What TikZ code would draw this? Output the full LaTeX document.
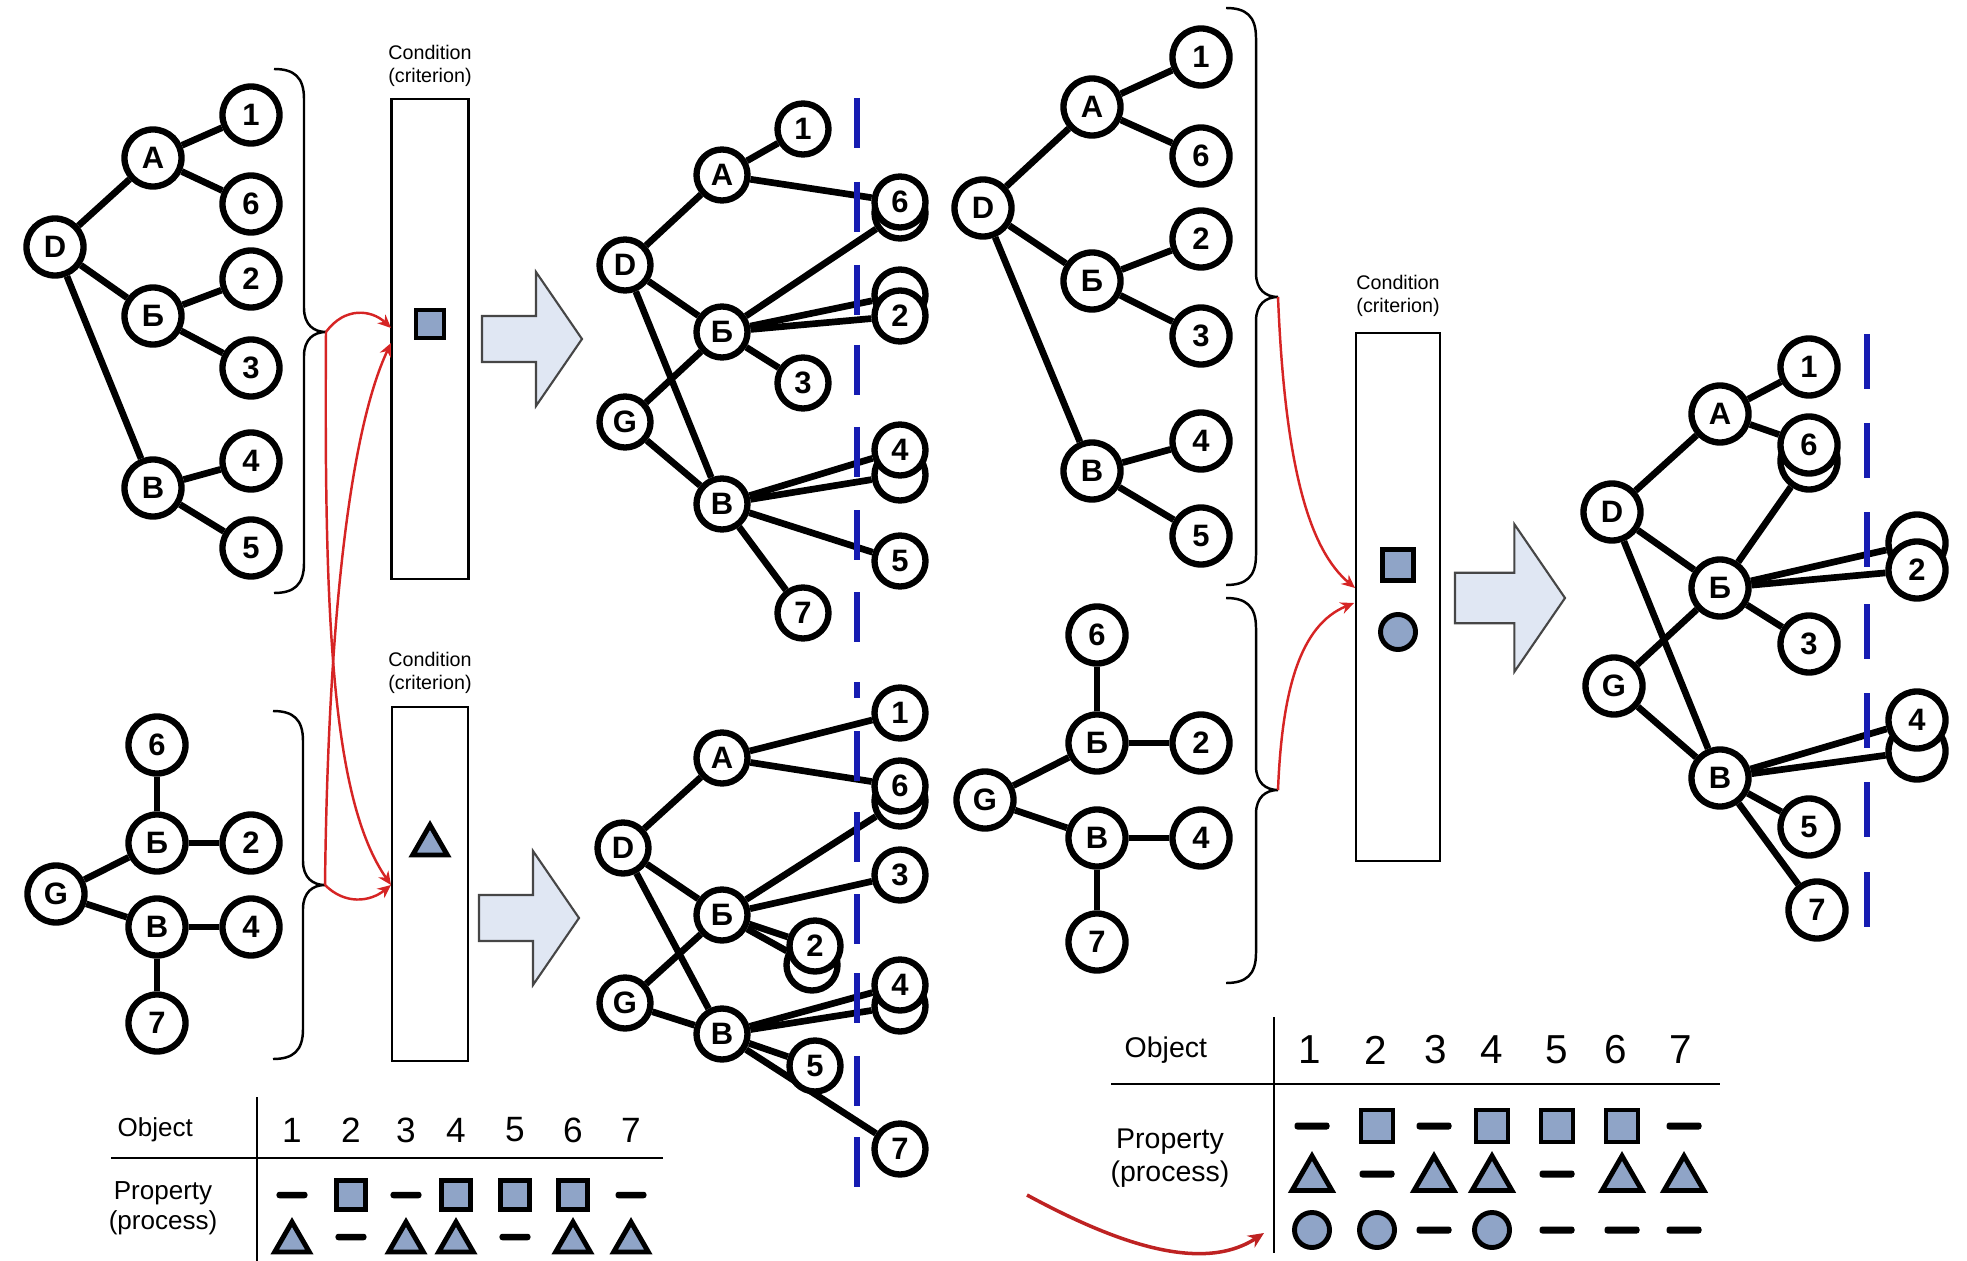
\documentclass[tikz,border=0pt]{standalone}
\usepackage{fontspec}
\setmainfont{Liberation Sans}
\usepackage{tikz}
\usetikzlibrary{arrows.meta,shapes.geometric,backgrounds}
\definecolor{cutBlue}{RGB}{22,28,178}
\definecolor{linkRed}{RGB}{214,36,36}
\definecolor{linkRedDark}{RGB}{190,34,34}
\definecolor{symFill}{RGB}{143,164,199}
\definecolor{bigFill}{RGB}{224,231,243}
\definecolor{bigEdge}{RGB}{70,70,70}

\tikzset{
  obj/.style={circle, draw, fill=white, line width=1.8pt, minimum size=0.57cm, inner sep=0pt,
    font=\bfseries\fontsize{8.8}{9}\selectfont},
  sobj/.style={obj, minimum size=0.51cm},
  tie/.style={line width=1.9pt},
  cut/.style={cutBlue, line width=1.5pt},
  brc/.style={line width=0.7pt},
  link/.style={linkRed, line width=0.7pt, -{Stealth[length=3.8pt,width=3.4pt]}},
  condbox/.style={draw, line width=0.7pt, inner sep=0pt},
  condlabel/.style={align=center, inner sep=0pt, font=\fontsize{5.6}{6.6}\selectfont},
  symsq/.style={rectangle, draw, fill=symFill, line width=1.4pt, minimum size=0.29cm, inner sep=0pt},
  symtri/.style={regular polygon, regular polygon sides=3, draw, fill=symFill, line width=1.4pt,
    minimum size=0.40cm, inner sep=0pt, yshift=-0.05cm},
  symdot/.style={circle, draw, fill=symFill, line width=1.4pt, minimum size=0.34cm, inner sep=0pt},
  symdash/.style={rectangle, fill=black, rounded corners=0.8pt, minimum width=0.31cm,
    minimum height=0.065cm, inner sep=0pt},
  tabrule/.style={line width=0.7pt},
  tabtext/.style={inner sep=0pt, font=\fontsize{7.4}{8.5}\selectfont},
  tabnum/.style={inner sep=0pt, font=\fontsize{10}{10}\selectfont}
}

\newcommand{\critbrace}[4]{%
\draw[brc] (#1,#2) .. controls (#1+20,#2) and (#1+30,#2+8) .. (#1+30,#2+30)
  -- (#1+30,#3-24) .. controls (#1+30,#3-7) and (#1+40,#3) .. (#1+52,#3)
  .. controls (#1+40,#3) and (#1+30,#3+7) .. (#1+30,#3+24)
  -- (#1+30,#4-30) .. controls (#1+30,#4-8) and (#1+20,#4) .. (#1,#4);}

\newcommand{\bigarrow}[3]{%
\begin{scope}[shift={(#1,#2)},scale=#3]
\draw[fill=bigFill, draw=bigEdge, line width=0.6pt]
  (0,-23) -- (54,-23) -- (54,-67) -- (100,0) -- (54,67) -- (54,23) -- (0,23) -- cycle;
\end{scope}}

\begin{document}
\begin{tikzpicture}[x=0.01cm, y=-0.01cm]
\useasboundingbox (0,0) rectangle (1967,1261);

% source tree D
\node[obj] (aD) at (55,247) {D};
\node[obj] (aA) at (153,158) {А};
\node[obj] (aB) at (153,316) {Б};
\node[obj] (aV) at (153,488) {В};
\node[obj] (a1) at (251,115) {1};
\node[obj] (a6) at (251,204) {6};
\node[obj] (a2) at (251,279) {2};
\node[obj] (a3) at (251,368) {3};
\node[obj] (a4) at (251,461) {4};
\node[obj] (a5) at (251,548) {5};

% source tree G
\node[obj] (bG) at (56,894) {G};
\node[obj] (bB) at (157,843) {Б};
\node[obj] (bV) at (157,927) {В};
\node[obj] (b6) at (157,745) {6};
\node[obj] (b2) at (251,843) {2};
\node[obj] (b4) at (251,927) {4};
\node[obj] (b7) at (157,1023) {7};

% result by square
\node[sobj] (cD) at (625,265) {D};
\node[sobj] (cA) at (722,175) {А};
\node[sobj] (cB) at (722,332) {Б};
\node[sobj] (cG) at (625,422) {G};
\node[sobj] (cV) at (722,504) {В};
\node[sobj] (c1) at (803,129) {1};
\node[sobj] (c3) at (803,383) {3};
\node[sobj] (c7) at (803,613) {7};
\node[sobj] (c6x) at (900,213) {};
\node[sobj] (c6) at (900,202) {6};
\node[sobj] (c2x) at (900,295) {};
\node[sobj] (c2) at (900,316) {2};
\node[sobj] (c4x) at (900,475) {};
\node[sobj] (c4) at (900,450) {4};
\node[sobj] (c5) at (900,561) {5};

% result by triangle
\node[sobj] (dD) at (623,848) {D};
\node[sobj] (dA) at (722,758) {А};
\node[sobj] (dB) at (722,915) {Б};
\node[sobj] (dG) at (625,1003) {G};
\node[sobj] (dV) at (722,1034) {В};
\node[sobj] (d1) at (900,713) {1};
\node[sobj] (d6x) at (900,801) {};
\node[sobj] (d6) at (900,786) {6};
\node[sobj] (d3) at (900,875) {3};
\node[sobj] (d2x) at (812,965) {};
\node[sobj] (d2) at (815,946) {2};
\node[sobj] (d4x) at (900,1006) {};
\node[sobj] (d4) at (900,985) {4};
\node[sobj] (d5) at (815,1066) {5};
\node[sobj] (d7) at (900,1149) {7};

% second source tree D
\node[obj] (eD) at (983,208) {D};
\node[obj] (eA) at (1092,107) {А};
\node[obj] (eB) at (1092,281) {Б};
\node[obj] (eV) at (1092,471) {В};
\node[obj] (e1) at (1201,57) {1};
\node[obj] (e6) at (1201,156) {6};
\node[obj] (e2) at (1201,239) {2};
\node[obj] (e3) at (1201,336) {3};
\node[obj] (e4) at (1201,441) {4};
\node[obj] (e5) at (1201,536) {5};

% second source tree G
\node[obj] (fG) at (985,800) {G};
\node[obj] (fB) at (1097,743) {Б};
\node[obj] (fV) at (1097,838) {В};
\node[obj] (f6) at (1097,635) {6};
\node[obj] (f2) at (1201,743) {2};
\node[obj] (f4) at (1201,838) {4};
\node[obj] (f7) at (1097,942) {7};

% result by square and circle
\node[obj] (gD) at (1612,512) {D};
\node[obj] (gA) at (1720,414) {А};
\node[obj] (gB) at (1720,588) {Б};
\node[obj] (gG) at (1614,686) {G};
\node[obj] (gV) at (1720,778) {В};
\node[obj] (g1) at (1809,367) {1};
\node[obj] (g6x) at (1809,461) {};
\node[obj] (g6) at (1809,445) {6};
\node[obj] (g3) at (1809,644) {3};
\node[obj] (g5) at (1809,827) {5};
\node[obj] (g7) at (1817,910) {7};
\node[obj] (g2x) at (1917,543) {};
\node[obj] (g2) at (1917,570) {2};
\node[obj] (g4x) at (1917,751) {};
\node[obj] (g4) at (1917,720) {4};

\begin{scope}[on background layer]
\foreach \u/\v in {aD/aA,aD/aB,aD/aV,aA/a1,aA/a6,aB/a2,aB/a3,aV/a4,aV/a5,
  bG/bB,bG/bV,bB/b6,bB/b2,bV/b4,bV/b7,
  cD/cA,cD/cB,cD/cV,cG/cB,cG/cV,cA/c1,cA/c6,cB/c6x,cB/c2x,cB/c2,cB/c3,cV/c4,cV/c4x,cV/c5,cV/c7,
  dD/dA,dD/dB,dD/dV,dG/dB,dG/dV,dA/d1,dA/d6,dB/d6x,dB/d3,dB/d2,dB/d2x,dV/d4,dV/d4x,dV/d5,dV/d7,
  eD/eA,eD/eB,eD/eV,eA/e1,eA/e6,eB/e2,eB/e3,eV/e4,eV/e5,
  fG/fB,fG/fV,fB/f6,fB/f2,fV/f4,fV/f7,
  gD/gA,gD/gB,gD/gV,gG/gB,gG/gV,gA/g1,gA/g6,gB/g6x,gB/g2x,gB/g2,gB/g3,gV/g4,gV/g4x,gV/g5,gV/g7}
  \draw[tie] (\u) -- (\v);
\end{scope}

% cut lines
\foreach \y in {98,182,265,345,427,510,592}
  \draw[cut] (857,\y) -- (857,\y+50);
\draw[cut] (857,682) -- (857,698);
\foreach \y in {731,812,894,973,1056,1137}
  \draw[cut] (857,\y) -- (857,\y+50);
\foreach \y in {334,423,512,604,693,782,872}
  \draw[cut] (1867,\y) -- (1867,\y+55);

% braces
\critbrace{274}{69}{332}{593}
\critbrace{273}{711}{885}{1059}
\critbrace{1226}{8}{297}{585}
\critbrace{1226}{598}{790}{983}

% criteria
\node[condbox, minimum width=0.77cm, minimum height=4.8cm] (crit1) at (430,339) {};
\node[condlabel] (crit1lab) at (430,66) {Condition\\(criterion)};
\node[symsq, minimum size=0.28cm] (crit1sq) at (430,324) {};
\node[condbox, minimum width=0.76cm, minimum height=3.54cm] (crit2) at (430,884) {};
\node[condlabel] (crit2lab) at (430,673) {Condition\\(criterion)};
\node[symtri] (crit2tri) at (430,840) {};
\node[condbox, minimum width=0.84cm, minimum height=5.28cm] (crit3) at (1398,597) {};
\node[condlabel] (crit3lab) at (1398,296) {Condition\\(criterion)};
\node[symsq, minimum size=0.31cm] (crit3sq) at (1398,565) {};
\node[symdot, minimum size=0.35cm] (crit3dot) at (1398,632) {};

% links
\coordinate (tipA) at (326,332);
\coordinate (tipB) at (325,885);
\coordinate (tipE) at (1278,297);
\coordinate (tipF) at (1278,790);
\coordinate (in1a) at (391,328);
\coordinate (in1b) at (391,343);
\coordinate (in2) at (391,885);
\coordinate (in3a) at (1355,588);
\coordinate (in3b) at (1354,603);
\draw[link] (tipA) .. controls (345,306) and (372,310) .. (in1a);
\draw[link] (tipB) .. controls (328,620) and (350,430) .. (in1b);
\draw[link] (tipA) .. controls (324,620) and (332,800) .. (in2);
\draw[link] (tipB) .. controls (345,905) and (370,902) .. (in2);
\draw[link] (tipE) .. controls (1285,470) and (1310,550) .. (in3a);
\draw[link] (tipF) .. controls (1282,690) and (1300,625) .. (in3b);

% big arrows
\bigarrow{482}{339}{1}
\bigarrow{479}{918}{1}
\bigarrow{1455}{598}{1.1}

% table of the first step
\node[tabtext, anchor=west] (tObjA) at (117,1130) {Object};
\foreach \n/\x in {1/292,2/351,3/406,4/456,5/515,6/573,7/631}
  \node[tabnum] (tNumA\n) at (\x,1130) {\n};
\node[tabtext, align=center] (tPropA) at (163,1208) {Property\\(process)};
\draw[tabrule] (111,1158) -- (663,1158);
\draw[tabrule] (257,1097) -- (257,1261);
\foreach \k/\x [count=\i] in {symdash/292,symsq/351,symdash/406,symsq/456,symsq/515,symsq/573,symdash/631}
  \node[\k] (tA1\i) at (\x,1195) {};
\foreach \k/\x [count=\i] in {symtri/292,symdash/351,symtri/406,symtri/456,symdash/515,symtri/573,symtri/631}
  \node[\k] (tA2\i) at (\x,1237) {};

% table of the second step
\begin{scope}[tabtext/.append style={font=\fontsize{8.1}{9.3}\selectfont},
  tabnum/.append style={font=\fontsize{11.5}{11.5}\selectfont},
  symsq/.append style={minimum size=0.32cm},
  symtri/.append style={minimum size=0.46cm},
  symdot/.append style={minimum size=0.35cm},
  symdash/.append style={minimum width=0.35cm, minimum height=0.07cm}]
\node[tabtext, anchor=west] (tObjB) at (1124,1050) {Object};
\foreach \n/\x in {1/1310,2/1376,3/1436,4/1492,5/1557,6/1616,7/1681}
  \node[tabnum] (tNumB\n) at (\x,1050) {\n};
\node[tabtext, align=center] (tPropB) at (1170,1158) {Property\\(process)};
\draw[tabrule] (1111,1084) -- (1720,1084);
\draw[tabrule] (1274,1017) -- (1274,1253);
\foreach \k/\x [count=\i] in {symdash/1312,symsq/1377,symdash/1434,symsq/1492,symsq/1557,symsq/1622,symdash/1684}
  \node[\k] (tB1\i) at (\x,1126) {};
\foreach \k/\x [count=\i] in {symtri/1312,symdash/1377,symtri/1434,symtri/1492,symdash/1557,symtri/1622,symtri/1684}
  \node[\k] (tB2\i) at (\x,1174) {};
\foreach \k/\x [count=\i] in {symdot/1312,symdot/1377,symdash/1434,symdot/1492,symdash/1557,symdash/1622,symdash/1684}
  \node[\k] (tB3\i) at (\x,1230) {};
\end{scope}
\coordinate (tabLinkA) at (1027,1195);
\coordinate (tabLinkB) at (1264,1233);
\draw[linkRedDark, line width=1pt, -{Stealth[length=4.5pt,width=4pt]}]
  (tabLinkA) .. controls (1110,1240) and (1200,1275) .. (tabLinkB);
\end{tikzpicture}
\end{document}
